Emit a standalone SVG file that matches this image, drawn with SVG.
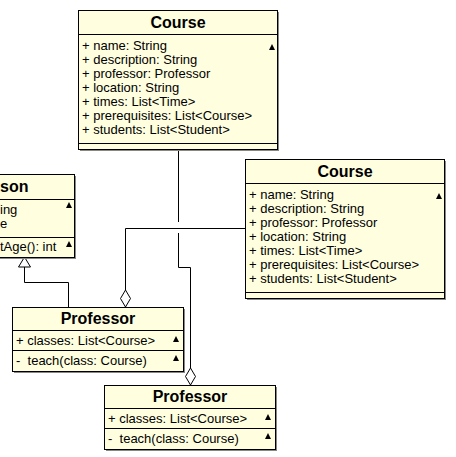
<svg xmlns="http://www.w3.org/2000/svg" width="456" height="457" viewBox="0 0 456 457">
<style>
.box{fill:#FFFFE0;stroke:#000;stroke-width:1}
.shd{fill:#888}
.sep{stroke:#000;stroke-width:1}
.ttl{font-family:"Liberation Sans",Arial,sans-serif;font-size:16px;font-weight:bold;fill:#000;text-anchor:middle}
.txt{font-family:"Liberation Sans",Arial,sans-serif;font-size:13px;fill:#000}
.tri{fill:#000}
.ln{fill:none;stroke:#000;stroke-width:1}
</style>
<rect width="456" height="457" fill="#fff"/>
<g id="connectors">
<path class="ln" d="M178.5,149 V222 M178.5,233 V267.5 H190.5 V368"/>
<path class="ln" d="M245,228.5 H125.5 V290"/>
<path d="M190.5,368 L195.5,376.5 L190.5,385 L185.5,376.5 Z" fill="#fff" stroke="#000"/>
<path d="M125.5,290 L130.5,298.5 L125.5,307 L120.5,298.5 Z" fill="#fff" stroke="#000"/>
<path class="ln" d="M68.5,307 V282.5 H24.5 V267"/>
<path d="M24.5,257 L30.5,267 L18.5,267 Z" fill="#fff" stroke="#000"/>
</g>
<g id="course1">
<rect class="shd" x="80" y="12" width="199" height="139"/>
<rect class="box" x="78.5" y="10.5" width="199" height="139"/>
<line class="sep" x1="78.5" y1="34.5" x2="277.5" y2="34.5"/>
<line class="sep" x1="78.5" y1="143.5" x2="277.5" y2="143.5"/>
<text class="ttl" x="178" y="28">Course</text>
<path class="tri" d="M269,50 L275,50 L272,44 Z"/>
<text class="txt" x="82" y="50">+ name: String</text>
<text class="txt" x="82" y="64">+ description: String</text>
<text class="txt" x="82" y="78">+ professor: Professor</text>
<text class="txt" x="82" y="92">+ location: String</text>
<text class="txt" x="82" y="106">+ times: List&lt;Time&gt;</text>
<text class="txt" x="82" y="120">+ prerequisites: List&lt;Course&gt;</text>
<text class="txt" x="82" y="134">+ students: List&lt;Student&gt;</text>
</g>
<g id="course2">
<rect class="shd" x="247" y="161" width="199" height="139"/>
<rect class="box" x="245.5" y="159.5" width="199" height="139"/>
<line class="sep" x1="245.5" y1="183.5" x2="444.5" y2="183.5"/>
<line class="sep" x1="245.5" y1="292.5" x2="444.5" y2="292.5"/>
<text class="ttl" x="345" y="177">Course</text>
<path class="tri" d="M436,199 L442,199 L439,193 Z"/>
<text class="txt" x="249" y="199">+ name: String</text>
<text class="txt" x="249" y="213">+ description: String</text>
<text class="txt" x="249" y="227">+ professor: Professor</text>
<text class="txt" x="249" y="241">+ location: String</text>
<text class="txt" x="249" y="255">+ times: List&lt;Time&gt;</text>
<text class="txt" x="249" y="269">+ prerequisites: List&lt;Course&gt;</text>
<text class="txt" x="249" y="283">+ students: List&lt;Student&gt;</text>
</g>
<g id="person">
<rect class="shd" x="-74" y="176" width="150" height="83"/>
<rect class="box" x="-75.5" y="174.5" width="150" height="83"/>
<line class="sep" x1="-75.5" y1="199.5" x2="74.5" y2="199.5"/>
<line class="sep" x1="-75.5" y1="237.5" x2="74.5" y2="237.5"/>
<text class="ttl" x="0" y="192" style="text-anchor:start">son</text>
<path class="tri" d="M66,208 L72,208 L69,202 Z"/>
<path class="tri" d="M66,247 L72,247 L69,241 Z"/>
<text class="txt" x="0" y="214">ing</text>
<text class="txt" x="0" y="228">e</text>
<text class="txt" x="0" y="251">tAge(): int</text>
</g>
<g id="professor1">
<rect class="shd" x="14" y="309" width="171" height="64"/>
<rect class="box" x="12.5" y="307.5" width="171" height="64"/>
<line class="sep" x1="12.5" y1="330.5" x2="183.5" y2="330.5"/>
<line class="sep" x1="12.5" y1="350.5" x2="183.5" y2="350.5"/>
<text class="ttl" x="98" y="324">Professor</text>
<text class="txt" x="16" y="345">+ classes: List&lt;Course&gt;</text>
<text class="txt" x="16" y="365" xml:space="preserve">-  teach(class: Course)</text>
<path class="tri" d="M173,342 L179,342 L176,336 Z"/>
<path class="tri" d="M173,361 L179,361 L176,355 Z"/>
</g>
<g id="professor2">
<rect class="shd" x="106" y="387" width="171" height="64"/>
<rect class="box" x="104.5" y="385.5" width="171" height="64"/>
<line class="sep" x1="104.5" y1="408.5" x2="275.5" y2="408.5"/>
<line class="sep" x1="104.5" y1="428.5" x2="275.5" y2="428.5"/>
<text class="ttl" x="190" y="402">Professor</text>
<text class="txt" x="108" y="423">+ classes: List&lt;Course&gt;</text>
<text class="txt" x="108" y="443" xml:space="preserve">-  teach(class: Course)</text>
<path class="tri" d="M265,420 L271,420 L268,414 Z"/>
<path class="tri" d="M265,439 L271,439 L268,433 Z"/>
</g>
</svg>
